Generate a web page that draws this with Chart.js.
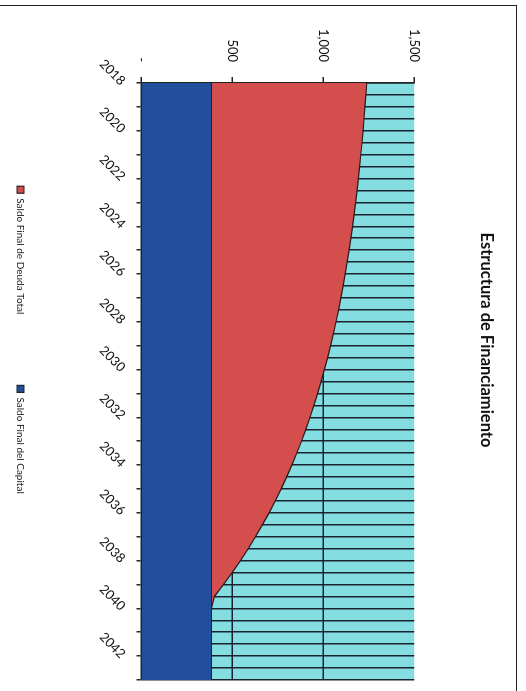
<!DOCTYPE html>
<html>
<head>
<meta charset="utf-8">
<title>Estructura de Financiamiento</title>
<script src="https://cdn.jsdelivr.net/npm/chart.js@4.4.1/dist/chart.umd.min.js"></script>
<style>
  html, body { margin: 0; padding: 0; background: #fff; }
  body { width: 526px; height: 691px; overflow: hidden; position: relative; }
  /* page frame: top and right rules */
  .frame {
    position: absolute; left: -2px; top: 5px; width: 518px; height: 700px;
    border-top: 1.5px solid #222; border-right: 1.5px solid #222;
  }
  /* the chart sits sideways on the page */
  .page {
    position: absolute; left: 0; top: 0; width: 691px; height: 526px;
    transform-origin: 0 0; transform: translateX(526px) rotate(90deg);
  }
</style>
</head>
<body>
<div class="frame"></div>
<div class="page"><canvas id="chart" width="691" height="526"></canvas></div>

<script>
/* ── Data (semiannual periods) ─────────────────────────── */
const periods = [
  2018, 2018.5, 2019, 2019.5, 2020, 2020.5, 2021, 2021.5, 2022, 2022.5,
  2023, 2023.5, 2024, 2024.5, 2025, 2025.5, 2026, 2026.5, 2027, 2027.5,
  2028, 2028.5, 2029, 2029.5, 2030, 2030.5, 2031, 2031.5, 2032, 2032.5,
  2033, 2033.5, 2034, 2034.5, 2035, 2035.5, 2036, 2036.5, 2037, 2037.5,
  2038, 2038.5, 2039, 2039.5, 2040, 2040.5, 2041, 2041.5, 2042, 2042.5,
  2043
];

const saldoCapital = [
  385, 385, 385, 385, 385, 385, 385, 385, 385, 385,
  385, 385, 385, 385, 385, 385, 385, 385, 385, 385,
  385, 385, 385, 385, 385, 385, 385, 385, 385, 385,
  385, 385, 385, 385, 385, 385, 385, 385, 385, 385,
  385, 385, 385, 385, 385, 385, 385, 385, 385, 385,
  385
];

const saldoDeuda = [
  854, 849, 844, 839, 834, 828, 821, 815, 808, 801,
  793, 785, 776, 767, 757, 746, 735, 724, 712, 699,
  685, 670, 655, 639, 621, 603, 584, 563, 542, 519,
  495, 469, 442, 413, 383, 351, 317, 280, 242, 202,
  159, 114, 66, 16, 0, 0, 0, 0, 0, 0,
  0
];

const valueTicks = [0, 500, 1000, 1500];

const FONT = 'Lato, "Liberation Sans", sans-serif';
const INK  = '#1b2230';

/* ── Plot background ───────────────────────────────────── */
const plotBg = {
  id: 'plotBg',
  beforeDraw(chart) {
    const { ctx, chartArea: a } = chart;
    ctx.save();
    ctx.fillStyle = '#84dde1';
    ctx.fillRect(a.left, a.top, a.width, a.height);
    ctx.restore();
  }
};

const isYear = i => Number.isInteger(periods[i]);

new Chart(document.getElementById('chart'), {
  type: 'line',
  data: {
    labels: periods,
    datasets: [
      {
        label: 'Saldo Final del Capital',
        data: saldoCapital,
        backgroundColor: '#214f9c',
        borderColor: '#1c2433',
        borderWidth: 1.2,
        fill: 'origin',
        pointRadius: 0,
      },
      {
        label: 'Saldo Final de Deuda Total',
        data: saldoDeuda,
        backgroundColor: '#d34e4c',
        borderColor: '#2a1c1c',
        borderWidth: 1.2,
        fill: '-1',
        pointRadius: 0,
      }
    ]
  },
  plugins: [plotBg],
  options: {
    responsive: false,
    animation: false,
    layout: { padding: { left: 0, right: 11, top: 0, bottom: 5.5 } },
    plugins: {
      title: {
        display: true,
        text: 'Estructura de Financiamiento',
        color: '#111',
        font: { family: FONT, size: 16.5, weight: 'bold' },
        padding: { top: 30, bottom: 62 }
      },
      legend: {
        position: 'bottom',
        reverse: true,
        labels: {
          boxWidth: 7,
          boxHeight: 7,
          padding: 71,
          color: '#222',
          font: { family: FONT, size: 10 }
        }
      },
      tooltip: { enabled: false }
    },
    scales: {
      x: {
        afterFit: s => { s.height = 45; s.paddingRight = 0; },
        grid: {
          color: INK,
          lineWidth: 1.5,
          tickLength: 5,
          tickColor: ctx => isYear(ctx.index) ? '#222' : 'transparent'
        },
        border: { display: true, color: '#222', width: 1.5 },
        ticks: {
          autoSkip: false,
          minRotation: 45,
          maxRotation: 45,
          padding: 8,
          color: '#111',
          font: { family: FONT, size: 13 },
          callback: (v, i) => periods[i] % 2 === 0 ? String(periods[i]) : ''
        }
      },
      y: {
        stacked: true,
        min: 0,
        max: 1500,
        afterFit: s => { s.width = 83; },
        afterBuildTicks: s => { s.ticks = valueTicks.map(v => ({ value: v })); },
        grid: {
          color: ctx => (ctx.tick && (ctx.tick.value === 500 || ctx.tick.value === 1000)) ? INK : 'transparent',
          lineWidth: 1.5,
          tickLength: 6,
          tickColor: '#222'
        },
        border: { display: true, color: '#222', width: 1.5 },
        ticks: {
          padding: 15,
          color: '#111',
          font: { family: FONT, size: 13 },
          callback: v => v === 0 ? '-' : v.toLocaleString('en-US')
        }
      }
    }
  }
});
</script>
</body>
</html>
